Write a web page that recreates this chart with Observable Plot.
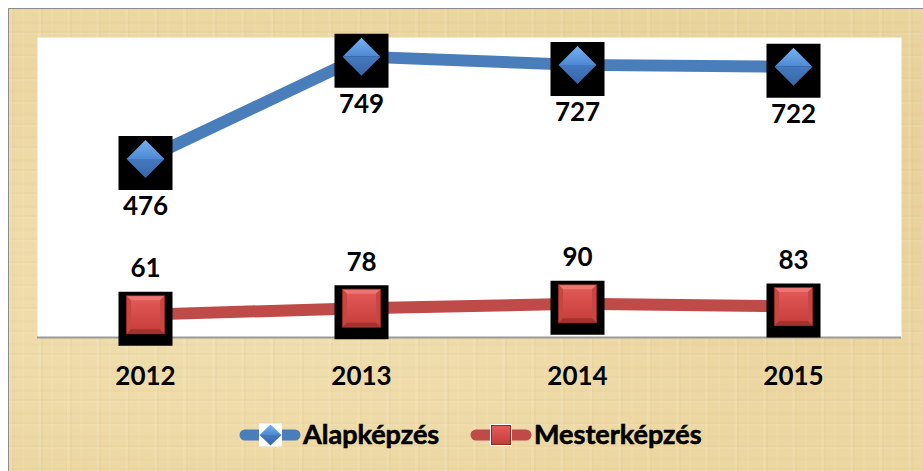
<!DOCTYPE html>
<html>
<head>
<meta charset="utf-8">
<script src="https://cdn.jsdelivr.net/npm/d3@7"></script>
<script src="https://cdn.jsdelivr.net/npm/@observablehq/plot@0.6"></script>
<style>
  html,body{margin:0;padding:0;width:923px;height:471px;overflow:hidden;background:#fff;font-family:Lato,"Open Sans",sans-serif;}
  #frame{position:absolute;left:8px;top:8px;width:915px;height:463px;
    border-left:1px solid #8c8c8c;border-top:1px solid #8c8c8c;
    background-color:#ECD7A2;
    background-image:
      repeating-linear-gradient(90deg, rgba(255,250,230,0.10) 0 3px, rgba(170,130,60,0.04) 3px 5px, transparent 5px 13px, rgba(255,245,220,0.07) 13px 15px, transparent 15px 29px),
      repeating-linear-gradient(0deg, rgba(255,250,230,0.08) 0 2px, rgba(160,120,50,0.04) 2px 4px, transparent 4px 11px, rgba(170,130,60,0.03) 11px 14px, transparent 14px 23px),
      radial-gradient(ellipse at 30% 60%, rgba(255,245,215,0.30), transparent 60%),
      radial-gradient(ellipse at 80% 30%, rgba(200,165,95,0.14), transparent 55%);
  }
  #chart{position:absolute;left:0;top:0;}
  #legend{position:absolute;left:0;top:405px;}
</style>
</head>
<body>
<div id="frame"></div>
<svg width="0" height="0" style="position:absolute">
  <defs>
    <linearGradient id="bTop" x1="0" y1="0" x2="0" y2="1">
      <stop offset="0" stop-color="#78B2F2"/>
      <stop offset="1" stop-color="#4D88D2"/>
    </linearGradient>
    <linearGradient id="bBot" x1="0" y1="0" x2="0" y2="1">
      <stop offset="0" stop-color="#4479BF"/>
      <stop offset="1" stop-color="#3766A8"/>
    </linearGradient>
    <linearGradient id="rFace" x1="0" y1="0" x2="0" y2="1">
      <stop offset="0" stop-color="#E45C5A"/>
      <stop offset="1" stop-color="#C53C39"/>
    </linearGradient>
  </defs>
</svg>
<div id="chart"></div>
<div id="legend"></div>
<script>
const years = ["2012", "2013", "2014", "2015"];
const seriesNames = ["Alapképzés", "Mesterképzés"];
const alapkepzes = [476, 749, 727, 722];
const mesterkepzes = [61, 78, 90, 83];
const seriesColors = ["#4A7EBB", "#BE4B48"];

const blueRows = years.map((year, i) => ({year, value: alapkepzes[i], series: seriesNames[0]}));
const redRows = years.map((year, i) => ({year, value: mesterkepzes[i], series: seriesNames[1]}));

// custom marker shapes
const square = (s) => ({draw(ctx) { ctx.rect(-s / 2, -s / 2, s, s); }});
const diamondTop = (w) => ({draw(ctx) { ctx.moveTo(0, -w); ctx.lineTo(w, 0); ctx.lineTo(-w, 0); ctx.closePath(); }});
const diamondBot = (w) => ({draw(ctx) { ctx.moveTo(-w, 0); ctx.lineTo(w, 0); ctx.lineTo(0, w); ctx.closePath(); }});
const bevelTop = (s, b) => ({draw(ctx) { const h = s / 2; ctx.moveTo(-h, -h); ctx.lineTo(h, -h); ctx.lineTo(h - b, -h + b); ctx.lineTo(-h + b, -h + b); ctx.closePath(); }});
const bevelBot = (s, b) => ({draw(ctx) { const h = s / 2; ctx.moveTo(-h, h); ctx.lineTo(h, h); ctx.lineTo(h - b, h - b); ctx.lineTo(-h + b, h - b); ctx.closePath(); }});
const bevelSides = (s, b) => ({draw(ctx) { const h = s / 2;
  ctx.moveTo(-h, -h); ctx.lineTo(-h + b, -h + b); ctx.lineTo(-h + b, h - b); ctx.lineTo(-h, h); ctx.closePath();
  ctx.moveTo(h, -h); ctx.lineTo(h - b, -h + b); ctx.lineTo(h - b, h - b); ctx.lineTo(h, h); ctx.closePath(); }});

const common = {x: "year", y: "value", r: 10};

const plot = Plot.plot({
  width: 923,
  height: 400,
  marginLeft: 37,
  marginRight: 22,
  marginTop: 37,
  marginBottom: 63,
  style: {background: "transparent", fontFamily: "Lato, sans-serif", fontSize: "26px", fontWeight: "bold", color: "#000", overflow: "visible"},
  x: {type: "point", domain: years, padding: 0.5, tickSize: 0, tickPadding: 29, label: null},
  y: {domain: [0, 800], axis: null},
  marks: [
    Plot.frame({fill: "white", stroke: "none"}),
    Plot.ruleY([0], {stroke: "#9a9a9a", strokeWidth: 2}),
    Plot.line(blueRows, {x: "year", y: "value", stroke: seriesColors[0], strokeWidth: 12}),
    Plot.line(redRows, {x: "year", y: "value", stroke: seriesColors[1], strokeWidth: 12}),
    // black shadow squares
    Plot.dot(blueRows, {...common, symbol: square(54), fill: "black", stroke: "none", dy: 4}),
    Plot.dot(redRows, {...common, symbol: square(54), fill: "black", stroke: "none", dy: 4}),
    // blue diamonds
    Plot.dot(blueRows, {...common, symbol: diamondTop(19), fill: "url(#bTop)", stroke: "none"}),
    Plot.dot(blueRows, {...common, symbol: diamondBot(19), fill: "url(#bBot)", stroke: "none"}),
    // red squares
    Plot.dot(redRows, {...common, symbol: square(39), fill: "#8E2926", stroke: "none"}),
    Plot.dot(redRows, {...common, symbol: square(37), fill: "url(#rFace)", stroke: "none"}),
    Plot.dot(redRows, {...common, symbol: bevelTop(37, 4), fill: "#EC7472", stroke: "none"}),
    Plot.dot(redRows, {...common, symbol: bevelSides(37, 4), fill: "#C94542", stroke: "none"}),
    Plot.dot(redRows, {...common, symbol: bevelBot(37, 4), fill: "#A4312E", stroke: "none"}),
    // value labels
    Plot.text(blueRows, {x: "year", y: "value", text: d => String(d.value), dy: 48, fontSize: 26, fontWeight: "bold", fill: "black"}),
    Plot.text(redRows, {x: "year", y: "value", text: d => String(d.value), dy: -46, fontSize: 26, fontWeight: "bold", fill: "black"})
  ]
});
document.getElementById("chart").appendChild(plot);

// legend (SVG)
const leg = d3.select("#legend").append("svg").attr("width", 923).attr("height", 60)
  .style("font-family", "Lato, sans-serif").style("font-weight", "bold").style("font-size", "27px");
function legendItem(x0, name, color, kind) {
  const g = leg.append("g").attr("transform", `translate(${x0},30)`);
  g.append("line").attr("x1", 6).attr("x2", 56).attr("y1", 0).attr("y2", 0)
    .attr("stroke", color).attr("stroke-width", 11).attr("stroke-linecap", "round");
  if (kind === "diamond") {
    g.append("rect").attr("x", 20).attr("y", -11.5).attr("width", 23).attr("height", 23).attr("fill", "white");
    g.append("path").attr("d", "M31.5,-10.5 L42.5,0 L20.5,0 Z").attr("fill", "url(#bTop)");
    g.append("path").attr("d", "M20.5,0 L42.5,0 L31.5,10.5 Z").attr("fill", "url(#bBot)");
  } else {
    g.append("rect").attr("x", 20).attr("y", -11).attr("width", 22).attr("height", 22).attr("fill", "white");
    g.append("rect").attr("x", 21).attr("y", -10).attr("width", 20).attr("height", 20).attr("fill", "#8E2926");
    g.append("rect").attr("x", 22).attr("y", -9).attr("width", 18).attr("height", 18).attr("fill", "url(#rFace)");
  }
  g.append("text").attr("x", 64).attr("y", 0).attr("dy", "0.35em").attr("fill", "#000")
    .attr("stroke", "#000").attr("stroke-width", 0.6).text(name);
}
legendItem(239, seriesNames[0], seriesColors[0], "diamond");
legendItem(470, seriesNames[1], seriesColors[1], "square");
</script>
</body>
</html>
